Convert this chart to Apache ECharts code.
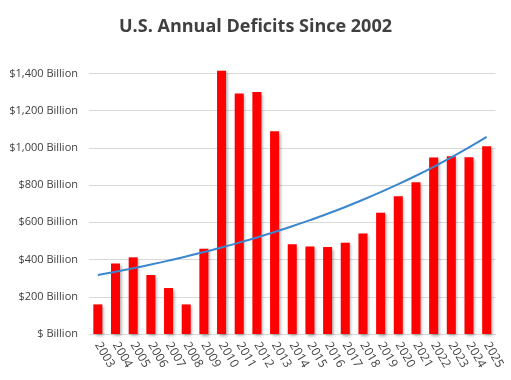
<!DOCTYPE html>
<html>
<head>
<meta charset="utf-8">
<script src="https://cdn.jsdelivr.net/npm/echarts@6/dist/echarts.min.js"></script>
<style>
html,body{margin:0;padding:0;background:#fff;}
#chart{width:511px;height:380px;}
</style>
</head>
<body>
<div id="chart"></div>
<script>
var titleText = 'U.S. Annual Deficits Since 2002';
var years = ['2003','2004','2005','2006','2007','2008','2009','2010','2011','2012','2013','2014','2015','2016','2017','2018','2019','2020','2021','2022','2023','2024','2025'];
var deficits = [159, 379, 412, 317, 247, 159, 458, 1415, 1293, 1300, 1089, 483, 470, 467, 490, 540, 651, 740, 815, 948, 955, 950, 1009];

// Exponential trendline (least squares fit on ln(values)), as in the spreadsheet's trendline
function expTrend(vals) {
  var n = vals.length, sx = 0, sy = 0, sxx = 0, sxy = 0;
  for (var i = 0; i < n; i++) {
    var x = i + 1, y = Math.log(vals[i]);
    sx += x; sy += y; sxx += x * x; sxy += x * y;
  }
  var b = (n * sxy - sx * sy) / (n * sxx - sx * sx);
  var a = (sy - b * sx) / n;
  return vals.map(function (v, i) { return Math.exp(a + b * (i + 1)); });
}
var trend = expTrend(deficits);

var chart = echarts.init(document.getElementById('chart'), null, {renderer: 'canvas'});
chart.setOption({
  animation: false,
  backgroundColor: '#ffffff',
  title: {
    text: titleText,
    left: 'center',
    top: 13,
    textStyle: {fontFamily: 'Open Sans', fontWeight: 'bold', fontSize: 18, color: '#404040'}
  },
  grid: {left: 89, right: 15.5, top: 73.5, bottom: 46, containLabel: false},
  xAxis: {
    type: 'category',
    data: years,
    axisLine: {lineStyle: {color: '#d9d9d9', width: 1}},
    axisTick: {show: false},
    axisLabel: {rotate: -60, margin: 9, fontFamily: 'Open Sans', fontSize: 12, color: '#404040', interval: 0}
  },
  yAxis: {
    type: 'value',
    min: 0,
    max: 1400,
    interval: 200,
    axisLine: {show: false},
    axisTick: {show: false},
    splitLine: {lineStyle: {color: '#d9d9d9', width: 1}},
    axisLabel: {
      margin: 11,
      fontFamily: 'Open Sans', fontSize: 11, color: '#404040',
      formatter: function (v) { return v === 0 ? '$ Billion' : '$' + v.toLocaleString('en-US') + ' Billion'; }
    }
  },
  series: [
    {
      type: 'bar',
      data: deficits,
      barWidth: 9,
      clip: false,
      itemStyle: {color: '#ff0000', shadowColor: 'rgba(0,0,0,0.35)', shadowBlur: 3, shadowOffsetX: 1.5, shadowOffsetY: 1.5}
    },
    {
      type: 'line',
      data: trend,
      smooth: true,
      symbol: 'none',
      lineStyle: {color: '#3a87d0', width: 2}
    }
  ]
});
</script>
</body>
</html>
